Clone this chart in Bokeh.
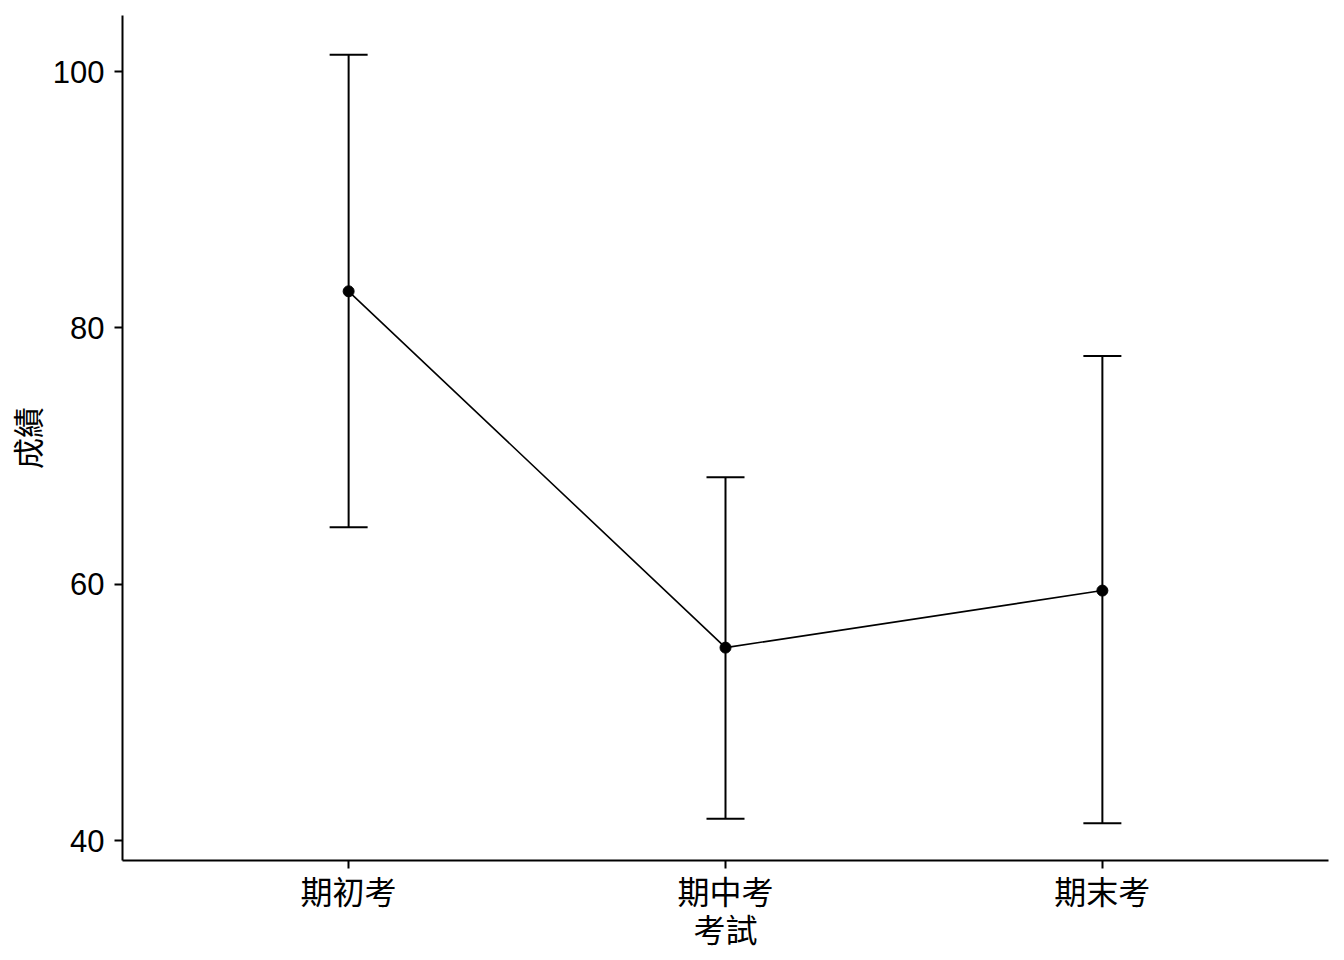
from bokeh.plotting import figure
from bokeh.models import ColumnDataSource, Whisker, TeeHead, Range1d, FixedTicker
from bokeh.embed import file_html
from bokeh.resources import INLINE

exams = ["期初考", "期中考", "期末考"]
means = [82.85, 55.05, 59.5]
upper = [101.3, 68.35, 77.8]
lower = [64.45, 41.7, 41.35]
y_ticks = [40, 60, 80, 100]

src = ColumnDataSource(dict(exam=exams, mean=means, upper=upper, lower=lower))

p = figure(x_range=exams, y_range=Range1d(38.44, 104.37),
           width=1344, height=960, output_backend="svg", toolbar_location=None,
           min_border_left=122, min_border_right=16, min_border_top=15, min_border_bottom=100)
p.x_range.range_padding = 0.2 / 3
p.x_range.range_padding_units = "percent"

p.grid.visible = False
p.outline_line_color = None
p.background_fill_color = "white"
p.border_fill_color = "white"

w = Whisker(base="exam", upper="upper", lower="lower", source=src,
            line_color="black", line_width=2,
            upper_head=TeeHead(size=38, line_color="black", line_width=2),
            lower_head=TeeHead(size=38, line_color="black", line_width=2))
p.add_layout(w)

p.line("exam", "mean", source=src, line_color="black", line_width=1.6)
p.scatter("exam", "mean", source=src, size=11, fill_color="black", line_color="black")

p.yaxis.ticker = FixedTicker(ticks=y_ticks)
for ax in (p.xaxis[0], p.yaxis[0]):
    ax.axis_line_width = 2
    ax.axis_line_color = "black"
    ax.major_tick_line_width = 2
    ax.major_tick_line_color = "black"
    ax.major_tick_out = 8
    ax.major_tick_in = 0
    ax.minor_tick_line_color = None
    ax.major_label_text_color = "black"
    ax.axis_label_text_color = "black"
    ax.axis_label_text_font_style = "normal"

p.yaxis.major_label_text_font = "Liberation Sans"
p.yaxis.major_label_text_font_size = "31px"
p.yaxis.major_label_standoff = 10
p.yaxis.axis_label = "成績"
p.yaxis.axis_label_text_font = "Noto Sans CJK TC"
p.yaxis.axis_label_text_font_size = "31px"
p.yaxis.axis_label_standoff = 1

p.xaxis.major_label_text_font = "Noto Sans CJK TC"
p.xaxis.major_label_text_font_size = "32px"
p.xaxis.major_label_standoff = -2
p.xaxis.axis_label = "考試"
p.xaxis.axis_label_text_font = "Noto Sans CJK TC"
p.xaxis.axis_label_text_font_size = "32px"
p.xaxis.axis_label_standoff = -11

open("out.html", "w").write(file_html(p, INLINE))
